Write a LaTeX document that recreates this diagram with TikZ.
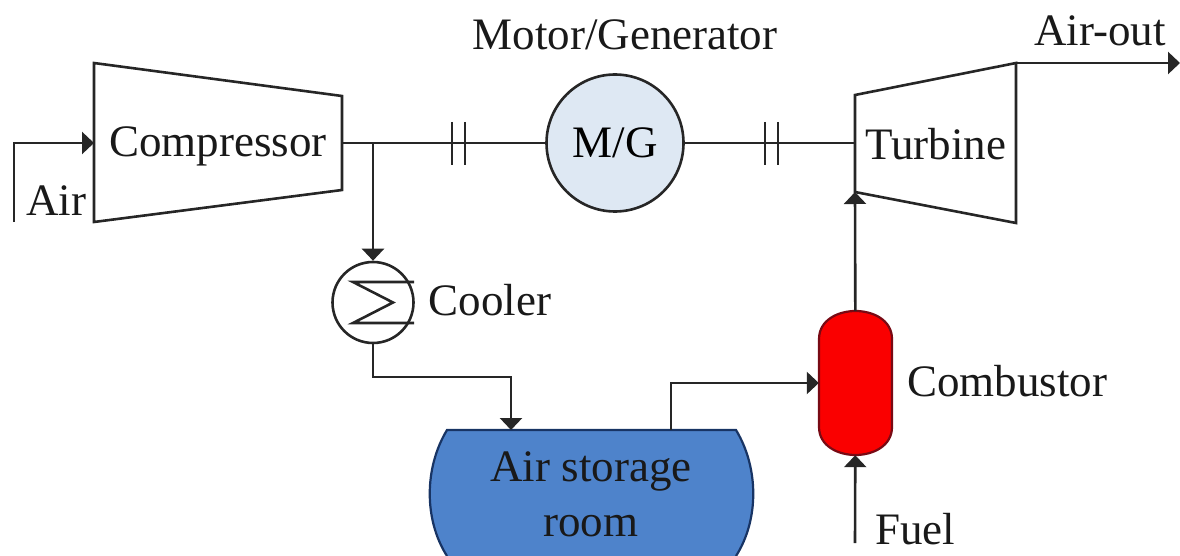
\documentclass[tikz,border=0pt]{standalone}
\usepackage{fontspec}
\setmainfont{Liberation Serif}
\usetikzlibrary{arrows.meta,calc}

\definecolor{mgblue}{RGB}{222,232,243}
\definecolor{tankblue}{RGB}{78,131,203}
\definecolor{tankline}{RGB}{24,52,100}
\definecolor{burnerred}{RGB}{250,0,0}
\definecolor{burnerline}{RGB}{120,10,20}

\tikzset{
    pipe/.style={line width=2.6pt, draw=black!85},
    flow/.style={pipe, -{Triangle[length=12pt, width=22pt]}},
    label/.style={font=\fontsize{45}{55}\selectfont, text=black!90, inner sep=0pt, align=center},
}

\begin{document}
\begin{tikzpicture}[x=1pt, y=-1pt]
    \useasboundingbox (0,0) rectangle (1180,556);

    % Compressor and turbine
    \coordinate (compIn) at (94,143);
    \coordinate (compOut) at (342,143);
    \coordinate (turbIn) at (855,143);
    \coordinate (turbGas) at (855,192);
    \coordinate (turbOut) at (1016,63);
    \draw[pipe] (94,63) -- (342,96) -- (342,190) -- (94,222) -- cycle;
    \draw[pipe] (855,95) -- (turbOut) -- (1016,223) -- (turbGas) -- cycle;
    \node[label] (compressor) at (218,146) {Compressor};
    \node[label] (turbine) at (936,144) {Turbine};

    % Motor/generator on the shaft
    \node[circle, pipe, fill=mgblue, minimum size=137pt, inner sep=0pt, font=\fontsize{45}{55}\selectfont] (mg) at (615,143) {M/G};
    \node[label] (mgname) at (625,35) {Motor/Generator};
    \draw[pipe] (compOut) -- (mg);
    \draw[pipe] (mg) -- (turbIn);

    % Couplings
    \foreach \x in {452,465,765,778}
        \draw[pipe] (\x,122) -- (\x,165);

    % Air in and out
    \coordinate (airStart) at (14,222);
    \coordinate (airEnd) at (1180,63);
    \draw[flow] (airStart) |- (compIn);
    \draw[flow] (turbOut) -- (airEnd);
    \node[label] (air) at (56,201) {Air};
    \node[label] (airout) at (1100,31) {Air-out};

    % Cooler
    \coordinate (branch) at (373,143);
    \node[circle, pipe, minimum size=81pt, inner sep=0pt] (cooler) at (373,302.5) {};
    \draw[flow] (branch) -- (cooler);
    \draw[pipe] (414,282) -- (353,282) -- (393,302.5) -- (353,323) -- (414,323);
    \node[label] (coolername) at (490,300) {Cooler};

    % Air storage room
    \coordinate (tankIn) at (511,430);
    \coordinate (tankOut) at (671,430);
    \filldraw[line width=2.2pt, draw=tankline, fill=tankblue]
        (447,556) .. controls (424,520) and (424,468) .. (447,430) -- (736,430)
        .. controls (759,468) and (759,520) .. (736,556);
    \node[label] (storage) at (591,494) {Air storage\\room};
    \draw[flow] (cooler) |- ($(tankIn)+(0,-53)$) -- (tankIn);

    % Combustor
    \filldraw[line width=2.2pt, draw=burnerline, fill=burnerred]
        (819,339) .. controls (819,320) and (838,311) .. (855.5,311)
        .. controls (873,311) and (892,320) .. (892,339) -- (892,427)
        .. controls (892,446) and (873,455) .. (855.5,455)
        .. controls (838,455) and (819,446) .. (819,427) -- cycle;
    \node[minimum width=73pt, minimum height=144pt, inner sep=0pt] (combustor) at (855.5,383) {};
    \node[label] (combustorname) at (1007,381) {Combustor};
    \draw[flow] (tankOut) |- (combustor.west);
    \draw[flow] (combustor) -- (turbGas);

    % Fuel
    \coordinate (fuelStart) at (855,543);
    \draw[flow] (fuelStart) -- (combustor);
    \node[label] (fuel) at (915,529) {Fuel};

\end{tikzpicture}
\end{document}
